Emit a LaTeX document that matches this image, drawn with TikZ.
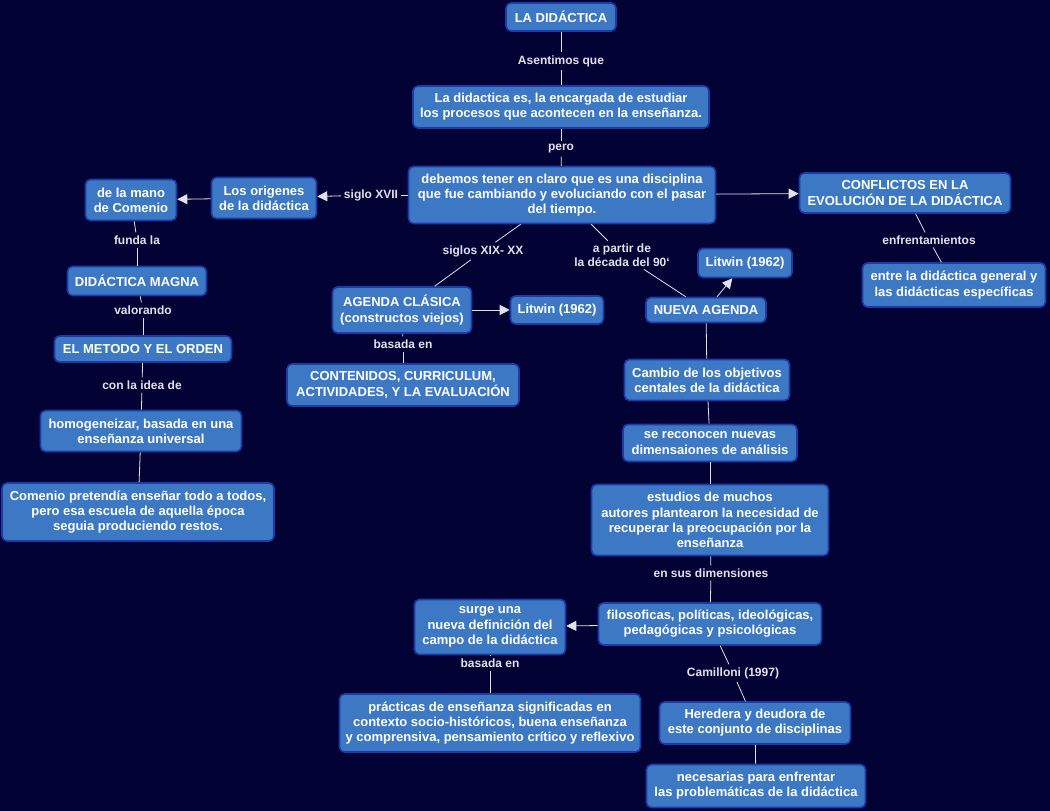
\documentclass[tikz,border=0pt]{standalone}
\usepackage{fontspec}
\setmainfont{Liberation Sans}
\usetikzlibrary{arrows.meta}
\definecolor{bg}{RGB}{2,3,52}
\definecolor{boxfill}{RGB}{61,120,196}
\definecolor{glow}{RGB}{28,58,168}
\definecolor{linec}{RGB}{225,225,235}
\definecolor{lblc}{RGB}{225,225,235}
\tikzset{
  box/.style={draw=glow, line width=1.6pt, fill=boxfill, rounded corners=5pt,
    text=white, font=\fontsize{13}{15.2}\selectfont\bfseries, align=center, inner sep=3pt},
  lbl/.style={text=lblc, font=\fontsize{12}{14}\selectfont\bfseries, align=center, inner sep=3pt},
  conn/.style={draw=linec, line width=0.8pt},
  arr/.style={conn, -{Triangle[length=10pt,width=10pt]}},
}
\begin{document}
\begin{tikzpicture}[x=1pt,y=-1pt]
\fill[bg] (0,0) rectangle (1050,811);
\useasboundingbox (0,0) rectangle (1050,811);

% nodes
\node[box, minimum width=110pt, minimum height=28pt] (lad) at (561,17) {LA DIDÁCTICA};
\node[box, minimum width=296pt, minimum height=42pt] (esta) at (561,107) {La didactica es, la encargada de estudiar\\los procesos que acontecen en la enseñanza.};
\node[box, minimum width=307pt, minimum height=57pt] (deb) at (562,195) {debemos tener en claro que es una disciplina\\que fue cambiando y evoluciando con el pasar\\del tiempo.};
\node[box, minimum width=105pt, minimum height=41pt] (orig) at (264,198) {Los origenes\\de la didáctica};
\node[box, minimum width=91pt, minimum height=41pt] (mano) at (131,200) {de la mano\\de Comenio};
\node[box, minimum width=139pt, minimum height=29pt] (magna) at (137,281) {DIDÁCTICA MAGNA};
\node[box, minimum width=177pt, minimum height=26pt] (metodo) at (143,349) {EL METODO Y EL ORDEN};
\node[box, minimum width=201pt, minimum height=41pt] (homo) at (141,431) {homogeneizar, basada en una\\enseñanza universal};
\node[box, minimum width=272pt, minimum height=58pt] (comenio) at (138,512) {Comenio pretendía enseñar todo a todos,\\pero esa escuela de aquella época\\seguia produciendo restos.};
\node[box, minimum width=211pt, minimum height=40pt] (conf) at (905,193) {CONFLICTOS EN LA\\EVOLUCIÓN DE LA DIDÁCTICA};
\node[box, minimum width=183pt, minimum height=44pt] (entre) at (954,285) {entre la didáctica general y\\las didácticas específicas};
\node[box, minimum width=139pt, minimum height=46pt] (clasica) at (402,310) {AGENDA CLÁSICA\\(constructos viejos)};
\node[box, minimum width=93pt, minimum height=28pt] (litA) at (557,310) {Litwin (1962)};
\node[box, minimum width=120pt, minimum height=25pt] (nueva) at (706,310) {NUEVA AGENDA};
\node[box, minimum width=94pt, minimum height=29pt] (litB) at (745,263) {Litwin (1962)};
\node[box, minimum width=232pt, minimum height=42pt] (cont) at (403,385) {CONTENIDOS, CURRICULUM,\\ACTIVIDADES, Y LA EVALUACIÓN};
\node[box, minimum width=165pt, minimum height=41pt] (cambio) at (707,380) {Cambio de los objetivos\\centales de la didáctica};
\node[box, minimum width=174pt, minimum height=37pt] (recon) at (710,443) {se reconocen nuevas\\dimensaiones de análisis};
\node[box, minimum width=237pt, minimum height=71pt] (estud) at (710,520) {estudios de muchos\\autores plantearon la necesidad de\\recuperar la preocupación por la\\enseñanza};
\node[box, minimum width=223pt, minimum height=42pt] (filo) at (710,624) {filosoficas, políticas, ideológicas,\\pedagógicas y psicológicas};
\node[box, minimum width=151pt, minimum height=55pt] (surge) at (490,627) {surge una\\nueva definición del\\campo de la didáctica};
\node[box, minimum width=301pt, minimum height=58pt] (pract) at (490,723) {prácticas de enseñanza significadas en\\contexto socio-históricos, buena enseñanza\\y comprensiva, pensamiento crítico y reflexivo};
\node[box, minimum width=191pt, minimum height=42pt] (hered) at (755,723) {Heredera y deudora de\\este conjunto de disciplinas};
\node[box, minimum width=219pt, minimum height=43pt] (nec) at (756,786) {necesarias para enfrentar\\las problemáticas de la didáctica};

% labels
\node[lbl] (l1) at (561,61) {Asentimos que};
\node[lbl] (l2) at (561,149) {pero};
\node[lbl] (l3) at (371,195) {siglo XVII};
\node[lbl] (l4) at (137,240) {funda la};
\node[lbl] (l5) at (143,310) {valorando};
\node[lbl] (l6) at (142,385) {con la idea de};
\node[lbl] (l7) at (929,240) {enfrentamientos};
\node[lbl] (l8) at (483,251) {siglos XIX- XX};
\node[lbl, font=\fontsize{12}{13.5}\selectfont\bfseries] (l9) at (622,255) {a partir de\\la década del 90\symbol{96}};
\node[lbl] (l10) at (403,344) {basada en};
\node[lbl] (l11) at (711,573) {en sus dimensiones};
\node[lbl] (l12) at (490,663) {basada en};
\node[lbl] (l13) at (733,673) {Camilloni (1997)};

% connectors
\draw[conn] (lad) -- (l1);
\draw[conn] (l1) -- (esta);
\draw[conn] (esta) -- (l2);
\draw[conn] (l2) -- (deb);
\draw[conn] (deb) -- (l3);
\draw[arr] (l3) -- (orig);
\draw[arr] (orig) -- (mano);
\draw[conn] (mano) -- (l4);
\draw[conn] (l4) -- (magna);
\draw[conn] (magna) -- (l5);
\draw[conn] (l5) -- (metodo);
\draw[conn] (metodo) -- (l6);
\draw[conn] (l6) -- (homo);
\draw[conn] (homo) -- (comenio);
\draw[arr] (deb) -- (conf);
\draw[conn] (conf) -- (l7);
\draw[conn] (l7) -- (entre);
\draw[conn] (deb) -- (l8);
\draw[conn] (l8) -- (clasica);
\draw[conn] (deb) -- (l9);
\draw[conn] (l9) -- (nueva);
\draw[arr] (clasica) -- (litA);
\draw[arr] (nueva) -- (litB);
\draw[conn] (clasica) -- (l10);
\draw[conn] (l10) -- (cont);
\draw[conn] (nueva) -- (cambio);
\draw[conn] (cambio) -- (recon);
\draw[conn] (recon) -- (estud);
\draw[conn] (estud) -- (l11);
\draw[conn] (l11) -- (filo);
\draw[arr] (filo) -- (surge);
\draw[conn] (surge) -- (l12);
\draw[conn] (l12) -- (pract);
\draw[conn] (filo) -- (l13);
\draw[conn] (l13) -- (hered);
\draw[conn] (hered) -- (nec);
\end{tikzpicture}
\end{document}
